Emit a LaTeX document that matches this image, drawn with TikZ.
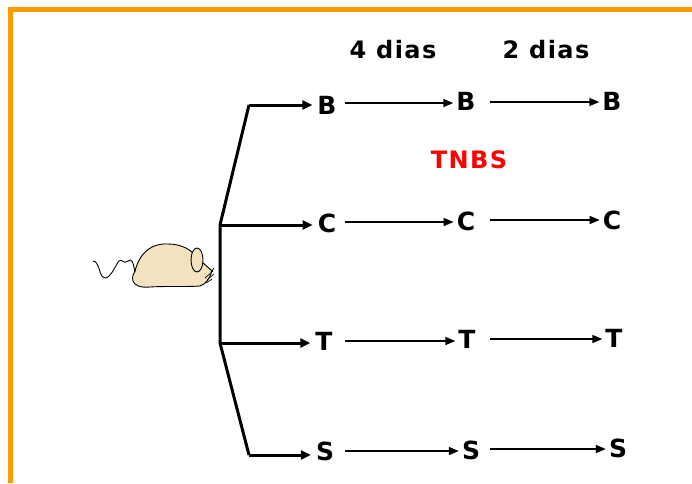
\documentclass[tikz,border=0pt]{standalone}
\usepackage{fontspec}
\setmainfont{DejaVu Sans}
\usetikzlibrary{arrows.meta}
\definecolor{frame}{HTML}{FF9900}
\definecolor{fur}{HTML}{F2E2C0}
\begin{document}
\begin{tikzpicture}[x=1pt,y=-1pt,
  lbl/.style={font=\fontsize{25}{27}\selectfont\bfseries, inner sep=0pt},
  hdr/.style={font=\fontsize{24}{27}\selectfont\bfseries\addfontfeature{LetterSpace=6}, inner sep=0pt},
  stem/.style={line width=3pt},
  feed/.style={line width=3pt,shorten >=5pt,-{Triangle[length=10pt,width=9pt]}},
  step arrow/.style={line width=1.5pt,shorten >=3pt,-{Triangle[length=10pt,width=8pt]}}]
\useasboundingbox (0,0) rectangle (692,483);
% frame
\draw[frame,line width=5pt] (692,9.5) -- (10.5,9.5) -- (10.5,483);

% mouse
\draw[line width=0.9pt,fill=fur,line join=round]
  (135,271) .. controls (140,252) and (152,243) .. (168,244)
  .. controls (182,244) and (192,250) .. (197,258)
  .. controls (203,263) and (208,267) .. (212,271)
  .. controls (210,278) and (206,284) .. (200,286)
  .. controls (185,287) and (165,286) .. (150,287)
  .. controls (140,288) and (134,285) .. (133,281)
  .. controls (132,277) and (133,274) .. (135,271) -- cycle;
\draw[line width=0.9pt,fill=fur] (197,260) ellipse (6 and 12);
\draw[line width=0.9pt,line join=round]
  (135,272) .. controls (133,262) and (132,258) .. (128,261)
  .. controls (124,265) and (122,258) .. (119,261)
  .. controls (116,264) and (111,278) .. (105,278)
  .. controls (100,278) and (100,268) .. (97,264)
  .. controls (96,262) and (95,261) .. (93,261);
\draw[line width=0.7pt] (205,278) -- (213,271) (207,280) -- (214,274)
  (206,283) -- (212,279) (211,272) -- (214,268);

% nodes
\coordinate (top) at (249,105);
\coordinate (jc) at (220,225);
\coordinate (jt) at (220,343);
\coordinate (bot) at (249,455);

\node[lbl] (b1) at (327,105) {B};
\node[lbl] (c1) at (327,223) {C};
\node[lbl] (t1) at (324,341) {T};
\node[lbl] (s1) at (325,451) {S};
\node[lbl] (b2) at (466,101) {B};
\node[lbl] (c2) at (466,221) {C};
\node[lbl] (t2) at (467,339) {T};
\node[lbl] (s2) at (471,450) {S};
\node[lbl] (b3) at (612,101) {B};
\node[lbl] (c3) at (612,220) {C};
\node[lbl] (t3) at (614,338) {T};
\node[lbl] (s3) at (618,448) {S};

\node[hdr] (d4) at (393,50) {4 dias};
\node[hdr] (d2) at (546,50) {2 dias};
\node[hdr,text=red] (tnbs) at (469,160) {TNBS};

% branching tree
\draw[stem,line join=miter] (top) -- (jc) -- (jt) -- (bot);
\draw[feed] (top) -- (top -| b1.west);
\draw[feed] (jc) -- (jc -| c1.west);
\draw[feed] (jt) -- (jt -| t1.west);
\draw[feed] (bot) -- (bot -| s1.west);

% time steps
\draw[step arrow] (345,103) -- (b2.west |- 0,103);
\draw[step arrow] (345,222) -- (c2.west |- 0,222);
\draw[step arrow] (345,341) -- (t2.west |- 0,341);
\draw[step arrow] (345,451) -- (s2.west |- 0,451);
\draw[step arrow] (490,102) -- (b3.west |- 0,102);
\draw[step arrow] (490,220) -- (c3.west |- 0,220);
\draw[step arrow] (490,339) -- (t3.west |- 0,339);
\draw[step arrow] (490,449) -- (s3.west |- 0,449);
\end{tikzpicture}
\end{document}
